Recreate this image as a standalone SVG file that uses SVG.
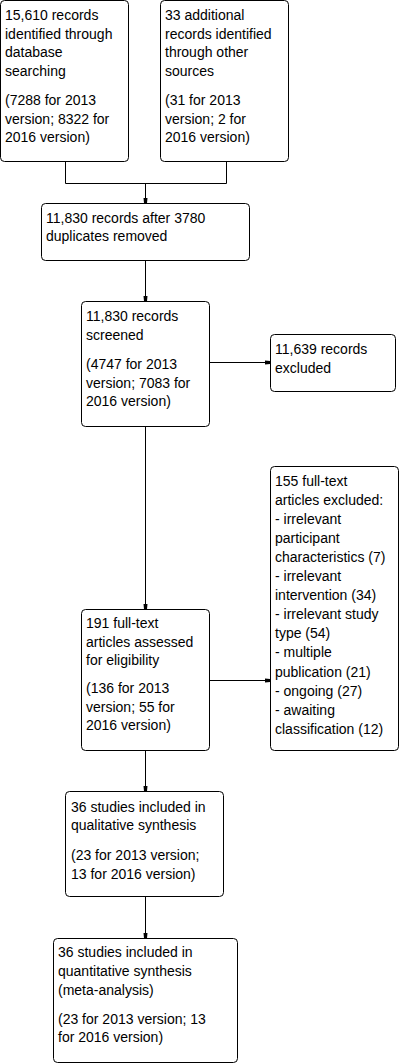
<svg xmlns="http://www.w3.org/2000/svg" width="402" height="1063" viewBox="0 0 402 1063">
<defs>
<style>
.box{fill:#fff;stroke:#000;stroke-width:1}
.t{font-family:"Liberation Sans",Arial,sans-serif;font-size:14px;fill:#000}
.c{fill:none;stroke:#000;stroke-width:1}
</style>
<marker id="ah" markerUnits="userSpaceOnUse" markerWidth="6" markerHeight="6" refX="5" refY="3" orient="auto">
<path d="M0,1 L5,1.5 L5,4.5 L0,5 Z" fill="#000"/>
</marker>
</defs>
<rect width="402" height="1063" fill="#fff"/>
<g id="connectors">
<path class="c" d="M65.5,162 V183.5 H226.5 V162"/>
<path class="c" d="M145.5,183.5 V203" marker-end="url(#ah)"/>
<path class="c" d="M145.5,261 V301" marker-end="url(#ah)"/>
<path class="c" d="M209.5,362.5 H270" marker-end="url(#ah)"/>
<path class="c" d="M145.5,427 V609" marker-end="url(#ah)"/>
<path class="c" d="M209.5,680.5 H270" marker-end="url(#ah)"/>
<path class="c" d="M145.5,751 V791" marker-end="url(#ah)"/>
<path class="c" d="M145.5,897 V938" marker-end="url(#ah)"/>
</g>
<g id="n1">
<rect class="box" x="0.5" y="0.5" width="128" height="161" rx="4"/>
<text class="t" x="5"><tspan x="5" y="20">15,610 records</tspan><tspan x="5" y="38.5">identified through</tspan><tspan x="5" y="57">database</tspan><tspan x="5" y="75.5">searching</tspan><tspan x="5" y="105">(7288 for 2013</tspan><tspan x="5" y="123.5">version; 8322 for</tspan><tspan x="5" y="142">2016 version)</tspan></text>
</g>
<g id="n2">
<rect class="box" x="160.5" y="0.5" width="128" height="161" rx="4"/>
<text class="t"><tspan x="165" y="20">33 additional</tspan><tspan x="165" y="38.5">records identified</tspan><tspan x="165" y="57">through other</tspan><tspan x="165" y="75.5">sources</tspan><tspan x="165" y="105">(31 for 2013</tspan><tspan x="165" y="123.5">version; 2 for</tspan><tspan x="165" y="142">2016 version)</tspan></text>
</g>
<g id="n3">
<rect class="box" x="41.5" y="203.5" width="208" height="57" rx="4"/>
<text class="t"><tspan x="46" y="222.5">11,830 records after 3780</tspan><tspan x="46" y="241">duplicates removed</tspan></text>
</g>
<g id="n4">
<rect class="box" x="81.5" y="301.5" width="128" height="125" rx="4"/>
<text class="t"><tspan x="86" y="321">11,830 records</tspan><tspan x="86" y="339.5">screened</tspan><tspan x="86" y="369">(4747 for 2013</tspan><tspan x="86" y="387.5">version; 7083 for</tspan><tspan x="86" y="406">2016 version)</tspan></text>
</g>
<g id="n5">
<rect class="box" x="270.5" y="334.5" width="125" height="57" rx="4"/>
<text class="t"><tspan x="275" y="354">11,639 records</tspan><tspan x="275" y="372.5">excluded</tspan></text>
</g>
<g id="n6">
<rect class="box" x="81.5" y="609.5" width="128" height="141" rx="4"/>
<text class="t"><tspan x="86" y="628">191 full-text</tspan><tspan x="86" y="646.5">articles assessed</tspan><tspan x="86" y="665">for eligibility</tspan><tspan x="86" y="693">(136 for 2013</tspan><tspan x="86" y="711.5">version; 55 for</tspan><tspan x="86" y="730">2016 version)</tspan></text>
</g>
<g id="n7">
<rect class="box" x="270.5" y="466.5" width="128" height="284" rx="4"/>
<text class="t"><tspan x="275" y="485.5">155 full-text</tspan><tspan x="275" y="504.6">articles excluded:</tspan><tspan x="275" y="523.7">- irrelevant</tspan><tspan x="275" y="542.8">participant</tspan><tspan x="275" y="561.9">characteristics (7)</tspan><tspan x="275" y="581">- irrelevant</tspan><tspan x="275" y="600.1">intervention (34)</tspan><tspan x="275" y="619.2">- irrelevant study</tspan><tspan x="275" y="638.3">type (54)</tspan><tspan x="275" y="657.4">- multiple</tspan><tspan x="275" y="676.5">publication (21)</tspan><tspan x="275" y="695.6">- ongoing (27)</tspan><tspan x="275" y="714.7">- awaiting</tspan><tspan x="275" y="733.8">classification (12)</tspan></text>
</g>
<g id="n8">
<rect class="box" x="65.5" y="791.5" width="158" height="105" rx="4"/>
<text class="t"><tspan x="71" y="811.5">36 studies included in</tspan><tspan x="71" y="830">qualitative synthesis</tspan><tspan x="71" y="860">(23 for 2013 version;</tspan><tspan x="71" y="878.5">13 for 2016 version)</tspan></text>
</g>
<g id="n9">
<rect class="box" x="53.5" y="938.5" width="184" height="124" rx="4"/>
<text class="t"><tspan x="58" y="957">36 studies included in</tspan><tspan x="58" y="976">quantitative synthesis</tspan><tspan x="58" y="995">(meta-analysis)</tspan><tspan x="58" y="1023.5">(23 for 2013 version; 13</tspan><tspan x="58" y="1042">for 2016 version)</tspan></text>
</g>
</svg>
